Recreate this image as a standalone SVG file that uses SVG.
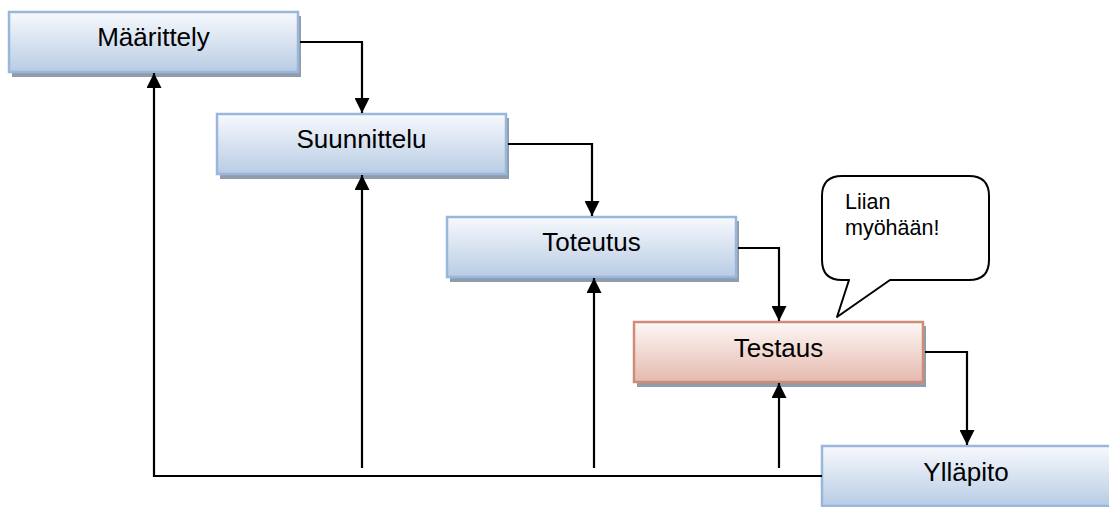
<svg xmlns="http://www.w3.org/2000/svg" width="1109" height="507" viewBox="0 0 1109 507">
  <defs>
    <linearGradient id="gBlue" x1="0" y1="0" x2="0" y2="1">
      <stop offset="0" stop-color="#f7f9fd"/>
      <stop offset="1" stop-color="#b8cce4"/>
    </linearGradient>
    <linearGradient id="gRed" x1="0" y1="0" x2="0" y2="1">
      <stop offset="0" stop-color="#fdf8f7"/>
      <stop offset="1" stop-color="#e5b9ad"/>
    </linearGradient>
    <marker id="arrow" markerWidth="15" markerHeight="15" refX="15" refY="7.5" orient="auto" markerUnits="userSpaceOnUse">
      <path d="M0,0 L15,7.5 L0,15 Z" fill="#000"/>
    </marker>
  </defs>
  <style>
    .shadow { fill: #8f9cad; }
    .box { fill: url(#gBlue); stroke: #9ab6da; stroke-width: 2.5; }
    .box.red { fill: url(#gRed); stroke: #cf8c7a; }
    .label { font-family: "Liberation Sans", Arial, sans-serif; font-size: 26px; fill: #000; text-anchor: middle; }
    .conn { fill: none; stroke: #000; stroke-width: 2.2; }
    .bubble { fill: #fff; stroke: #000; stroke-width: 2; stroke-linejoin: round; }
    .note { font-family: "Liberation Sans", Arial, sans-serif; font-size: 21.5px; fill: #000; }
  </style>
  <rect width="1109" height="507" fill="#fff"/>

  <!-- phases of the waterfall -->
  <g id="maarittely">
    <rect class="shadow" x="12" y="16" width="289" height="61"/>
    <rect class="box" x="9" y="12" width="289" height="60"/>
    <text class="label" x="153.5" y="46">Määrittely</text>
  </g>
  <g id="suunnittelu">
    <rect class="shadow" x="220" y="118" width="289" height="61"/>
    <rect class="box" x="217" y="114" width="289" height="60"/>
    <text class="label" x="361.5" y="148">Suunnittelu</text>
  </g>
  <g id="toteutus">
    <rect class="shadow" x="450" y="221" width="289" height="61"/>
    <rect class="box" x="447" y="217" width="289" height="60"/>
    <text class="label" x="591.5" y="251">Toteutus</text>
  </g>
  <g id="testaus">
    <rect class="shadow" x="637" y="326" width="289" height="61"/>
    <rect class="box red" x="634" y="322" width="289" height="60"/>
    <text class="label" x="778.5" y="357">Testaus</text>
  </g>
  <g id="yllapito">
    <rect class="shadow" x="825" y="450" width="289" height="61"/>
    <rect class="box" x="822" y="446" width="289" height="60"/>
    <text class="label" x="966" y="481">Ylläpito</text>
  </g>

  <!-- speech bubble -->
  <g id="kupla">
    <path class="bubble" d="M842,176 H969 Q989,176 989,196 V260 Q989,280 969,280 H890 L837,317 L849,280 H842 Q822,280 822,260 V196 Q822,176 842,176 Z"/>
    <text class="note" x="845" y="209">Liian</text>
    <text class="note" x="845" y="235">myöhään!</text>
  </g>

  <!-- connectors -->
  <g id="connectors">
    <path class="conn" d="M300,42 H362 V113" marker-end="url(#arrow)"/>
    <path class="conn" d="M508,144 H592 V216" marker-end="url(#arrow)"/>
    <path class="conn" d="M738,248 H779 V321" marker-end="url(#arrow)"/>
    <path class="conn" d="M925,352 H967 V445" marker-end="url(#arrow)"/>
    <path class="conn" d="M822,476 H154 V73" marker-end="url(#arrow)"/>
    <path class="conn" d="M362,468 V175" marker-end="url(#arrow)"/>
    <path class="conn" d="M594,468 V278" marker-end="url(#arrow)"/>
    <path class="conn" d="M779,468 V383" marker-end="url(#arrow)"/>
  </g>
</svg>
